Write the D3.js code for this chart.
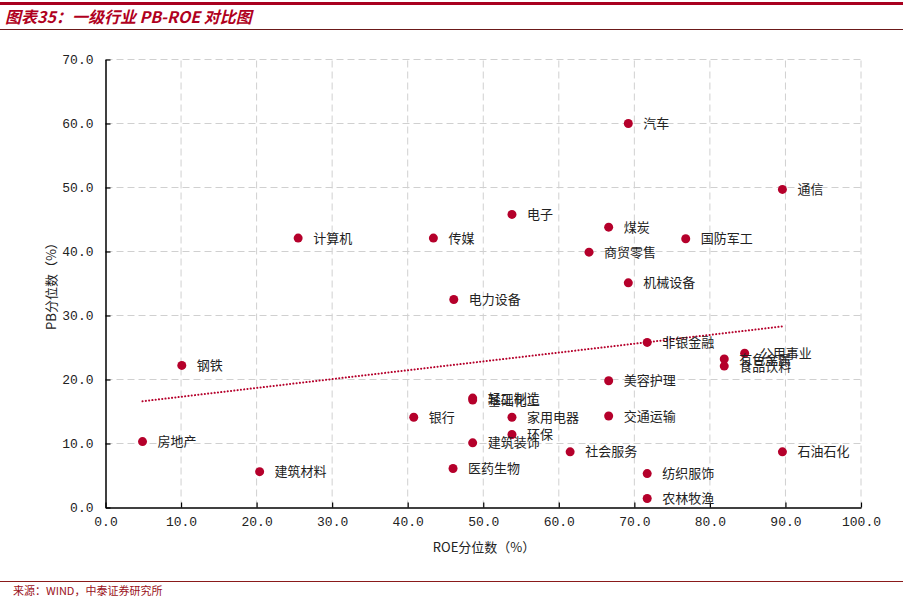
<!DOCTYPE html>
<meta charset="utf-8">
<style>
  body { margin: 0; background: #fff; font-family: "Noto Sans CJK SC", sans-serif; }
  .grid line { stroke: #d0d0d0; stroke-dasharray: 7,4; stroke-width: 1; }
  .tick text { font-family: "Liberation Mono", "DejaVu Sans Mono", monospace; font-size: 13px; fill: #222; }
  .lbl { font-family: "Noto Sans CJK SC", sans-serif; font-size: 13px; fill: #222; }
</style>
<script src="https://d3js.org/d3.v7.min.js"></script>
<body>
<div id="chart"></div>
<script>
  // 行业名称、ROE分位数、PB分位数
  const names = ["汽车","通信","煤炭","国防军工","商贸零售","机械设备","电子","计算机","传媒","电力设备",
    "钢铁","房地产","建筑材料","非银金融","公用事业","有色金属","食品饮料","美容护理","交通运输","社会服务",
    "石油石化","银行","轻工制造","基础化工","家用电器","环保","建筑装饰","医药生物","纺织服饰","农林牧渔"];
  const roe = [69.2, 89.6, 66.6, 76.8, 64.0, 69.2, 53.8, 25.5, 43.4, 46.1,
    10.1, 4.9, 20.4, 71.7, 84.6, 81.9, 81.9, 66.6, 66.6, 61.5,
    89.6, 40.8, 48.6, 48.6, 53.8, 53.8, 48.6, 46.0, 71.7, 71.7];
  const pb = [60.0, 49.7, 43.8, 42.0, 39.9, 35.1, 45.8, 42.1, 42.1, 32.5,
    22.2, 10.3, 5.6, 25.8, 24.1, 23.2, 22.1, 19.8, 14.3, 8.7,
    8.7, 14.1, 17.1, 16.8, 14.1, 11.4, 10.1, 6.1, 5.3, 1.4];
  // 趋势线端点
  const trendX = [4.9, 89.6];
  const trendY = [16.6, 28.3];
  const xTicks = d3.range(0, 101, 10);
  const yTicks = d3.range(0, 71, 10);

  const W = 903, H = 600;
  const red = "#b5002b";

  let svg = d3.select("#chart").append("svg")
    .attr("width", W).attr("height", H);

  // 标题
  svg.append("rect").attr("x", 0).attr("y", 2).attr("width", W).attr("height", 3).attr("fill", "#a8001f");
  svg.append("text").attr("x", 5).attr("y", 23)
    .attr("font-size", 16).attr("font-weight", 700).attr("font-style", "italic")
    .attr("font-family", "'Noto Sans CJK SC', sans-serif")
    .attr("fill", "#b00020").text("图表35：一级行业 PB-ROE 对比图");
  svg.append("line").attr("x1", 0).attr("x2", W).attr("y1", 29.5).attr("y2", 29.5)
    .attr("stroke", "#6b1a1a").attr("stroke-width", 1);

  // 比例尺
  let x = d3.scaleLinear().domain([0, 100]).range([105.5, 861]);
  let y = d3.scaleLinear().domain([0, 70]).range([507.5, 59.5]);

  // 网格
  let grid = svg.append("g").attr("class", "grid");
  grid.selectAll(".gx").data(xTicks.slice(1)).join("line")
    .attr("x1", d => x(d)).attr("x2", d => x(d)).attr("y1", y(0)).attr("y2", y(70));
  grid.selectAll(".gy").data(yTicks.slice(1)).join("line")
    .attr("x1", x(0)).attr("x2", x(100)).attr("y1", d => y(d)).attr("y2", d => y(d));

  // 坐标轴
  let xAxis = svg.append("g").attr("transform", `translate(0,${y(0)})`)
    .call(d3.axisBottom(x).tickValues(xTicks).tickFormat(d3.format(".1f")).tickSizeInner(-5).tickSizeOuter(0).tickPadding(9));
  let yAxis = svg.append("g").attr("transform", `translate(${x(0)},0)`)
    .call(d3.axisLeft(y).tickValues(yTicks).tickFormat(d3.format(".1f")).tickSizeInner(-5).tickSizeOuter(0).tickPadding(12));
  [xAxis, yAxis].forEach(a => {
    a.select(".domain").attr("stroke", "#000").attr("stroke-width", 1.5);
    a.selectAll(".tick line").attr("stroke", "#000").attr("stroke-width", 1.2);
  });

  // 轴标题
  svg.append("text").attr("class", "lbl").attr("x", 484).attr("y", 552)
    .attr("text-anchor", "middle").text("ROE分位数（%）");
  svg.append("text").attr("class", "lbl")
    .attr("transform", "translate(56,283) rotate(-90)")
    .attr("text-anchor", "middle").text("PB分位数（%）");

  // 趋势线
  svg.append("line")
    .attr("x1", x(trendX[0])).attr("y1", y(trendY[0]))
    .attr("x2", x(trendX[1])).attr("y2", y(trendY[1]))
    .attr("stroke", red).attr("stroke-width", 2)
    .attr("stroke-dasharray", "0.1,3.2").attr("stroke-linecap", "round");

  // 散点
  let data = names.map((n, i) => ({name: n, roe: roe[i], pb: pb[i]}));
  svg.append("g").selectAll("circle").data(data).join("circle")
    .attr("cx", d => x(d.roe)).attr("cy", d => y(d.pb)).attr("r", 4.5)
    .attr("fill", red);
  svg.append("g").selectAll("text").data(data).join("text")
    .attr("class", "lbl")
    .attr("x", d => x(d.roe) + 15).attr("y", d => y(d.pb))
    .attr("dy", "0.35em").text(d => d.name);

  // 来源
  svg.append("line").attr("x1", 0).attr("x2", W).attr("y1", 581.5).attr("y2", 581.5)
    .attr("stroke", "#8a1a1a").attr("stroke-width", 1);
  svg.append("text").attr("x", 13).attr("y", 595).attr("font-size", 11)
    .attr("font-family", "'Noto Sans CJK SC', sans-serif")
    .attr("fill", "#9a1020").text("来源：WIND，中泰证券研究所");
</script>
</body>
